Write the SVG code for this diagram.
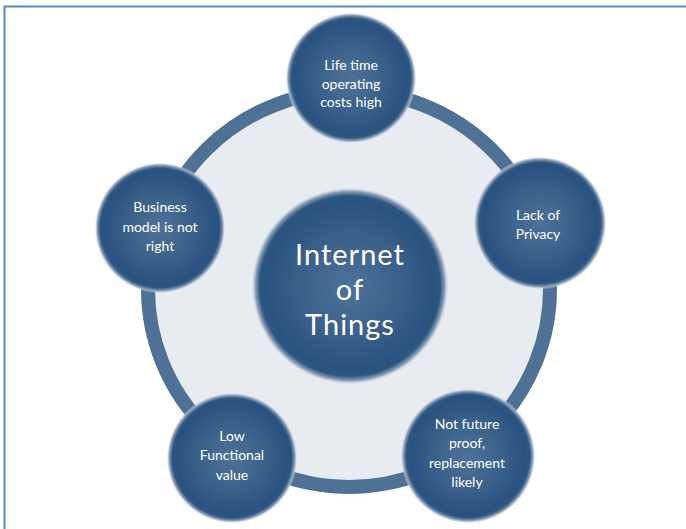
<svg xmlns="http://www.w3.org/2000/svg" width="686" height="529" viewBox="0 0 686 529">
<defs>
<radialGradient id="nodeGrad" cx="50%" cy="50%" r="50%">
<stop offset="0" stop-color="#4f7299"/>
<stop offset="0.55" stop-color="#395f8a"/>
<stop offset="0.86" stop-color="#2a5280"/>
<stop offset="0.92" stop-color="#2e5681"/>
<stop offset="0.965" stop-color="#8a9db8"/>
<stop offset="1" stop-color="#d6dce6" stop-opacity="0.3"/>
</radialGradient>
<style>
.node{fill:url(#nodeGrad);}
.lbl{font-family:Lato,"Open Sans","Liberation Sans",sans-serif;font-size:14px;fill:#ffffff;text-anchor:middle;}
.big{font-family:Lato,"Open Sans","Liberation Sans",sans-serif;font-size:29px;letter-spacing:1px;fill:#ffffff;text-anchor:middle;}
</style>
</defs>
<rect width="686" height="529" fill="#ffffff"/>
<path d="M4.5,529 V6.5 H686" fill="none" stroke="#5a87c0" stroke-width="2"/>
<g id="connectors">
<ellipse id="ring" cx="349" cy="289" rx="201" ry="198" fill="#e8ebf0" stroke="#4f7196" stroke-width="14"/>
</g>
<g id="center">
<circle class="node" cx="350" cy="286" r="98"/>
<text class="big" x="350" y="265">Internet</text>
<text class="big" x="350" y="300">of</text>
<text class="big" x="350" y="335">Things</text>
</g>
<g id="n-lifetime">
<circle class="node" cx="351" cy="78" r="65"/>
<text class="lbl" x="351" y="70">Life time</text>
<text class="lbl" x="351" y="89">operating</text>
<text class="lbl" x="351" y="107">costs high</text>
</g>
<g id="n-privacy">
<circle class="node" cx="540" cy="223" r="66"/>
<text class="lbl" x="538" y="220">Lack of</text>
<text class="lbl" x="538" y="239">Privacy</text>
</g>
<g id="n-future">
<circle class="node" cx="468" cy="456" r="67"/>
<text class="lbl" x="467" y="429">Not future</text>
<text class="lbl" x="467" y="448">proof,</text>
<text class="lbl" x="467" y="468">replacement</text>
<text class="lbl" x="467" y="487">likely</text>
</g>
<g id="n-low">
<circle class="node" cx="232" cy="458" r="65"/>
<text class="lbl" x="232" y="441">Low</text>
<text class="lbl" x="232" y="460">Functional</text>
<text class="lbl" x="232" y="480">value</text>
</g>
<g id="n-business">
<circle class="node" cx="160" cy="228" r="65"/>
<text class="lbl" x="160" y="212">Business</text>
<text class="lbl" x="160" y="232">model is not</text>
<text class="lbl" x="160" y="251">right</text>
</g>
</svg>
